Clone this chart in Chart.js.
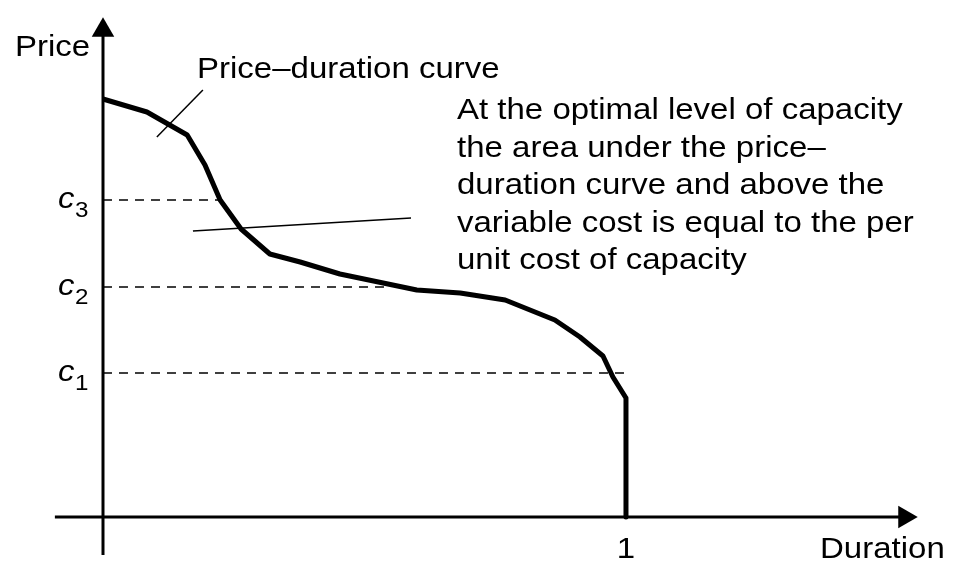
<!DOCTYPE html>
<html lang="en">
<head>
    <meta charset="UTF-8">
    <title>Price-duration curve</title>
    <script src="https://cdn.jsdelivr.net/npm/chart.js"></script>
    <style>
        html, body { margin: 0; padding: 0; background: #fff; }
        #wrap { width: 954px; height: 581px; }
    </style>
</head>
<body>
    <div id="wrap"><canvas id="chart" width="954" height="581"></canvas></div>

    <script>
        // price-duration curve (duration 0..1, price in arbitrary units)
        const curveDuration = [0, 0.084, 0.161, 0.195, 0.224, 0.264, 0.319, 0.377, 0.453, 0.600, 0.683, 0.769, 0.864, 0.912, 0.956, 0.975, 1.0, 1.0];
        const curvePrice    = [4.18, 4.05, 3.82, 3.52, 3.17, 2.88, 2.63, 2.55, 2.43, 2.27, 2.24, 2.17, 1.97, 1.80, 1.61, 1.40, 1.19, 0];

        // variable cost levels and where their dashed guides stop
        const costLabels = ['3', '2', '1'];
        const costLevels = [3.17, 2.30, 1.44];
        const costEnds   = [0.228, 0.539, 1.0];

        const xTickLabel = '1';
        const xTickValue = 1;

        const ctx = document.getElementById('chart').getContext('2d');
        const FONT = '"Liberation Sans", Arial, sans-serif';
        const STRETCH = 1.1;

        const toPoints = (xs, ys) => xs.map((x, i) => ({ x, y: ys[i] }));

        const datasets = [];

        // axes with arrow heads
        datasets.push({
            data: [{ x: -0.092, y: 0 }, { x: 1.533, y: 0 }],
            borderColor: '#000', backgroundColor: '#000', borderWidth: 3,
            pointStyle: 'triangle', pointRadius: [0, 13], pointRotation: [0, 90], pointBorderWidth: 0
        });
        datasets.push({
            data: [{ x: 0, y: -0.38 }, { x: 0, y: 4.867 }],
            borderColor: '#000', backgroundColor: '#000', borderWidth: 3,
            pointStyle: 'triangle', pointRadius: [0, 13], pointRotation: [0, 0], pointBorderWidth: 0
        });

        // dashed cost guides
        costLevels.forEach((c, i) => {
            datasets.push({
                data: [{ x: 0, y: c }, { x: costEnds[i], y: c }],
                borderColor: '#000', borderWidth: 1.6, borderDash: [9, 7], pointRadius: 0
            });
        });

        // leader lines for the two annotations
        datasets.push({
            data: [{ x: 0.191, y: 4.27 }, { x: 0.103, y: 3.80 }],
            borderColor: '#000', borderWidth: 1.5, pointRadius: 0
        });
        datasets.push({
            data: [{ x: 0.172, y: 2.86 }, { x: 0.589, y: 2.99 }],
            borderColor: '#000', borderWidth: 1.5, pointRadius: 0
        });

        // the curve itself
        datasets.push({
            data: toPoints(curveDuration, curvePrice),
            borderColor: '#000', borderWidth: 5, pointRadius: 0, tension: 0,
            borderJoinStyle: 'round', borderCapStyle: 'butt'
        });

        function put(c, str, x, y, size, style) {
            c.save();
            c.font = (style || '') + ' ' + size + 'px ' + FONT;
            c.translate(x, y);
            c.scale(STRETCH, 1);
            c.fillText(str, 0, 0);
            c.restore();
        }

        const labelsPlugin = {
            id: 'labels',
            afterDraw(chart) {
                const c = chart.ctx;
                const xs = chart.scales.x, ys = chart.scales.y;
                c.save();
                c.fillStyle = '#000';
                c.textBaseline = 'alphabetic';
                c.textAlign = 'left';

                put(c, 'Price', 15, 56, 30);
                put(c, 'Duration', 820, 558, 30);

                // tick "1" under the axis
                c.save();
                c.font = '30px ' + FONT;
                const w = c.measureText(xTickLabel).width * STRETCH;
                c.restore();
                put(c, xTickLabel, xs.getPixelForValue(xTickValue) - w / 2, 558, 30);

                costLevels.forEach((v, i) => {
                    const py = ys.getPixelForValue(v);
                    put(c, 'c', 58, py + 8, 30, 'italic');
                    put(c, costLabels[i], 75, py + 17, 22);
                });

                put(c, 'Price\u2013duration curve', 197, 78, 30);

                const note = [
                    'At the optimal level of capacity',
                    'the area under the price\u2013',
                    'duration curve and above the',
                    'variable cost is equal to the per',
                    'unit cost of capacity'
                ];
                note.forEach((line, i) => put(c, line, 457, 119 + i * 37.5, 30));
                c.restore();
            }
        };

        new Chart(ctx, {
            type: 'scatter',
            data: { datasets: datasets.map(d => Object.assign({ showLine: true, clip: false }, d)) },
            options: {
                responsive: false,
                devicePixelRatio: 1,
                animation: false,
                layout: { padding: 0, autoPadding: false },
                plugins: { legend: { display: false }, tooltip: { enabled: false } },
                scales: {
                    x: { type: 'linear', display: false, min: -0.19694, max: 1.6272 },
                    y: { type: 'linear', display: false, min: -0.64, max: 5.17 }
                }
            },
            plugins: [labelsPlugin]
        });
    </script>
</body>
</html>
